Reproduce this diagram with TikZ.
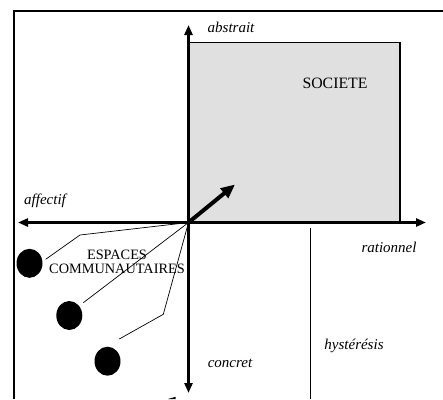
\documentclass[tikz,border=0pt]{standalone}
\usepackage{fontspec}
\setmainfont{Liberation Serif}
\usetikzlibrary{arrows.meta,shapes.geometric}
\begin{document}
\begin{tikzpicture}[x=1pt,y=-1pt,
  axis/.style={line width=3.5pt,-{Triangle[length=10pt,width=8pt]}},
  frameline/.style={line width=2pt},
  link/.style={line width=0.7pt},
  blob/.style={ellipse,fill=black,minimum width=26pt,minimum height=29pt,inner sep=0pt},
  axlabel/.style={font=\fontsize{15}{17}\selectfont\itshape,inner sep=0pt},
  caps/.style={font=\fontsize{14.3}{16}\selectfont,inner sep=0pt,align=center}]
\useasboundingbox (0,0) rectangle (443,399);

% outer frame (only its top and left sides fall inside the picture)
\draw[frameline] (14,399) -- (14,11) -- (443,11);

% quadrant "societe"
\fill[black!12] (188,42.7) rectangle (400,222.5);
\draw[line width=1.2pt] (188,42.7) -- (400,42.7) -- (400,222.5);
\node[caps,font=\fontsize{15.8}{17}\selectfont] (soc) at (335,83) {SOCIETE};

% hysteresis separator
\draw[line width=0.8pt] (310,228) -- (310,399);

% origin and axes
\coordinate (O) at (188.5,222.5);
\coordinate (top) at (188.5,25);
\coordinate (bot) at (188.5,393);
\coordinate (lft) at (18,222.5);
\coordinate (rgt) at (426,222.5);
\draw[axis] (O) -- (top);
\draw[axis] (O) -- (bot);
\draw[axis] (O) -- (lft);
\draw[axis] (O) -- (rgt);

% movement towards the societe quadrant
\coordinate (tip) at (235,184.5);
\draw[line width=4pt,-{Triangle[length=14pt,width=12pt]}] (O) -- (tip);

% axis labels
\node[axlabel] (abs) at (231,27) {abstrait};
\node[axlabel] (aff) at (45,201) {affectif};
\node[axlabel] (rat) at (389,247) {rationnel};
\node[axlabel] (hys) at (354,346) {hystérésis};
\node[axlabel] (con) at (230,363) {concret};

% community spaces
\node[caps] (esp) at (117,262) {ESPACES\\[-1.5pt]COMMUNAUTAIRES};
\node[blob] (c1) at (29.5,263.3) {};
\node[blob] (c2) at (69.3,315.5) {};
\node[blob] (c3) at (107.5,361.2) {};

\coordinate (b1) at (80,235);
\coordinate (e1) at (45.7,259.3);
\coordinate (e2) at (83.3,302.7);
\coordinate (b3) at (163.3,314.3);
\coordinate (e3) at (119.3,339);
\draw[link] (O) -- (b1) -- (e1);
\draw[link] (O) -- (e2);
\draw[link] (O) -- (b3) -- (e3);

% edge of a shape below the picture
\fill (168,399) -- (175.5,396.8) -- (175.5,399) -- cycle;
\end{tikzpicture}
\end{document}
